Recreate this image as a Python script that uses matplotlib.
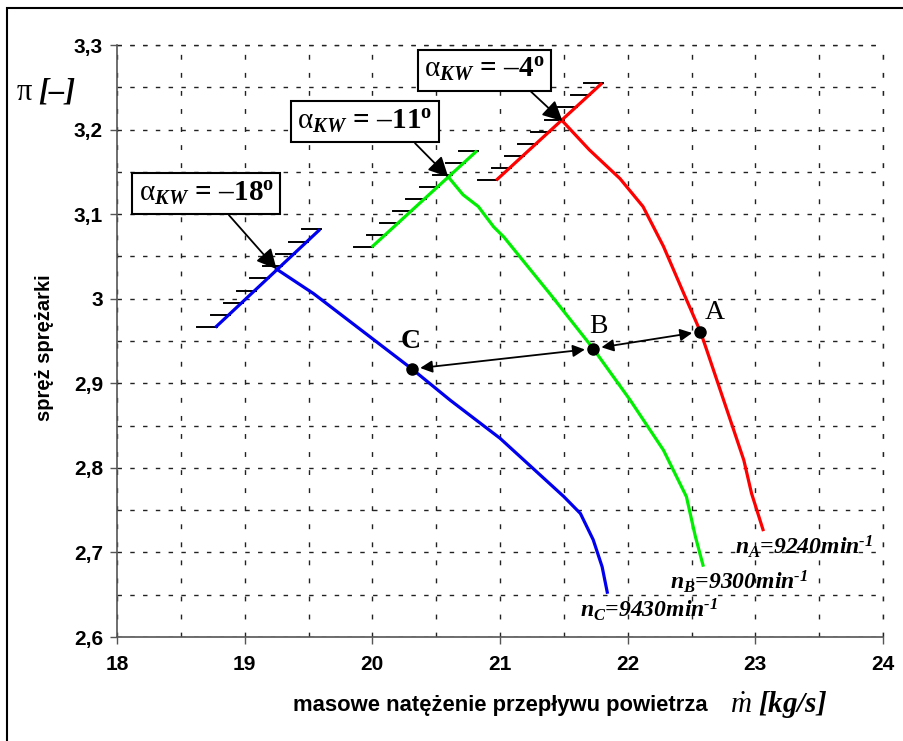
import matplotlib
matplotlib.use("Agg")
import matplotlib.pyplot as plt
import numpy as np
from matplotlib.ticker import MultipleLocator, FuncFormatter
from matplotlib.patches import Rectangle

plt.rcParams["mathtext.fontset"] = "custom"
plt.rcParams["mathtext.rm"] = "Liberation Serif"
plt.rcParams["mathtext.it"] = "Liberation Serif:italic"
plt.rcParams["mathtext.bf"] = "Liberation Serif:bold"
plt.rcParams["mathtext.bfit"] = "Liberation Serif:bold:italic"

# Compressor characteristic lines (mass flow [kg/s], pressure ratio [-])
nA_x = [21.49, 21.70, 21.94, 22.12, 22.28, 22.44, 22.57, 22.62, 22.83, 22.91, 22.97, 23.06]
nA_y = [3.210, 3.176, 3.142, 3.109, 3.062, 3.006, 2.961, 2.939, 2.845, 2.809, 2.770, 2.727]

nB_x = [20.595, 20.71, 20.83, 20.95, 21.03, 21.39, 21.73, 22.02, 22.28, 22.46, 22.53, 22.59]
nB_y = [3.144, 3.123, 3.109, 3.085, 3.073, 3.006, 2.941, 2.880, 2.821, 2.766, 2.719, 2.685]

nC_x = [19.25, 19.54, 20.31, 20.61, 21.00, 21.50, 21.63, 21.73, 21.80, 21.84]
nC_y = [3.035, 3.006, 2.917, 2.880, 2.835, 2.766, 2.746, 2.715, 2.683, 2.653]

# Surge limit lines (start, end) for each guide-vane angle
surge_A_x = [20.97, 21.80]
surge_A_y = [3.140, 3.255]
surge_B_x = [19.995, 20.82]
surge_B_y = [3.061, 3.175]
surge_C_x = [18.77, 19.59]
surge_C_y = [2.966, 3.082]

# Operating points
point_names = ["A", "B", "C"]
point_x = [22.57, 21.73, 20.31]
point_y = [2.961, 2.941, 2.917]

speed_subs = ["A", "B", "C"]
speed_values = ["9240", "9300", "9430"]
angle_values = ["4", "11", "18"]
DASH = "\u2013"

W, H = 904, 741
fig = plt.figure(figsize=(W / 100, H / 100), dpi=100)
ax = fig.add_axes([117 / W, 1 - 637 / H, (883 - 117) / W, (637 - 45) / H])

# outer frame
fig.patches.append(Rectangle((7 / W, -0.05), 1.2, 1 - 8 / H + 0.05, transform=fig.transFigure,
                             fill=False, edgecolor="black", linewidth=1.5))

ax.set_xlim(18, 24)
ax.set_ylim(2.6, 3.3)
ax.xaxis.set_major_locator(MultipleLocator(1))
ax.xaxis.set_minor_locator(MultipleLocator(0.5))
ax.yaxis.set_major_locator(MultipleLocator(0.1))
ax.yaxis.set_minor_locator(MultipleLocator(0.05))

def comma_fmt(v, pos):
    s = f"{v:.1f}".rstrip("0").rstrip(".")
    return s.replace(".", ",")

ax.yaxis.set_major_formatter(FuncFormatter(comma_fmt))
ax.xaxis.set_major_formatter(FuncFormatter(lambda v, p: f"{v:.0f}"))

for lab in ax.get_xticklabels() + ax.get_yticklabels():
    lab.set_fontfamily("Liberation Sans")
    lab.set_fontweight("bold")
    lab.set_fontsize(15)

ax.tick_params(axis="both", which="major", length=5, width=1, color="#555555", direction="out")
ax.tick_params(axis="x", which="major", pad=8)
ax.tick_params(axis="y", which="major", pad=5)
ax.tick_params(axis="both", which="minor", length=0)

for s in ["top", "right"]:
    ax.spines[s].set_visible(False)
for s in ["left", "bottom"]:
    ax.spines[s].set_color("#555555")
    ax.spines[s].set_linewidth(1.2)

ax.yaxis.grid(True, which="both", color="#222222", linewidth=1.0, linestyle=(0, (3.2, 6.0)))
ax.xaxis.grid(True, which="both", color="#222222", linewidth=1.0, linestyle=(0, (3.5, 9.5)))
ax.set_axisbelow(True)

# extra top and right dashed grid borders
ax.axhline(3.3, color="#222222", linewidth=1.0, linestyle=(0, (3.2, 6.0)), clip_on=False)
ax.axvline(24, color="#222222", linewidth=1.0, linestyle=(0, (3.5, 9.5)), clip_on=False)

# characteristic lines
ax.plot(nA_x, nA_y, color="#ff0000", linewidth=2.3, zorder=3)
ax.plot(nB_x, nB_y, color="#00ee00", linewidth=2.3, zorder=3)
ax.plot(nC_x, nC_y, color="#0000ee", linewidth=2.3, zorder=3)

# surge lines with hatching
for sx, sy, col in [(surge_A_x, surge_A_y, "#ff0000"),
                    (surge_B_x, surge_B_y, "#00ee00"),
                    (surge_C_x, surge_C_y, "#0000ee")]:
    hx = np.linspace(sx[0], sx[1], 9)
    hy = np.linspace(sy[0], sy[1], 9)
    for x0, y0 in zip(hx, hy):
        ax.plot([x0 - 0.14, x0 + 0.01], [y0, y0], color="black", linewidth=1.4, zorder=2)
    ax.plot(sx, sy, color=col, linewidth=2.3, zorder=3, solid_capstyle="butt")

# operating points
ax.plot(point_x, point_y, "o", color="black", markersize=8, zorder=5)
ax.text(point_x[0] + 0.11, point_y[0] + 0.023, point_names[0], fontfamily="Liberation Serif",
        fontsize=20, ha="center", va="center")
ax.text(point_x[1] + 0.04, point_y[1] + 0.026, point_names[1], fontfamily="Liberation Serif",
        fontsize=20, ha="center", va="center")
ax.text(point_x[2] - 0.01, point_y[2] + 0.032, point_names[2], fontfamily="Liberation Serif",
        fontweight="bold", fontsize=20, ha="center", va="center")

# double arrows between operating points
arrow_kw = dict(arrowstyle="<|-|>", color="black", lw=1.3, mutation_scale=18,
                shrinkA=6, shrinkB=6)
ax.annotate("", xy=(point_x[0], point_y[0]), xytext=(point_x[1], point_y[1]), arrowprops=arrow_kw)
ax.annotate("", xy=(point_x[1], point_y[1]), xytext=(point_x[2], point_y[2]), arrowprops=arrow_kw)

# speed labels
speed_pos = [(22.84, 2.698), (22.33, 2.657), (21.63, 2.624)]
for sub, val, (tx, ty) in zip(speed_subs, speed_values, speed_pos):
    lbl = ("n$_{\\mathbfit{" + sub + "}}$=" + val + "min$^{\\mathbfit{\u2010}\\mathbfit{1}}$")
    ax.text(tx, ty, lbl, fontfamily="Liberation Serif", fontweight="bold", fontstyle="italic",
            fontsize=17, ha="left", va="baseline")

# guide-vane angle callouts
callouts = [
    (angle_values[0], (nA_x[0], nA_y[0]), (20.88, 3.270), 0.82),
    (angle_values[1], (nB_x[0], nB_y[0]), (19.94, 3.209), 0.82),
    (angle_values[2], (nC_x[0], nC_y[0]), (18.70, 3.124), 0.62),
]
for val, tip, pos, rx in callouts:
    txt = (r"$\mathrm{\alpha}_{\mathbfit{KW}}\,\mathbf{=}\,\mathbf{" + DASH + val
           + r"}^{\mathbf{o}}$")
    ax.annotate(txt, xy=tip, xytext=pos, fontsize=21, ha="center", va="center",
                bbox=dict(boxstyle="square,pad=0.22", facecolor="white", edgecolor="black", linewidth=1.5),
                arrowprops=dict(arrowstyle="-|>", color="black", lw=1.3, mutation_scale=30,
                                shrinkA=0, shrinkB=0, relpos=(rx, 0)),
                zorder=6)

# axis titles
fig.text(45 / W, 1 - 348 / H, "spręż sprężarki", rotation=90, fontfamily="Liberation Sans",
         fontweight="bold", fontsize=14.5, ha="center", va="center")
fig.text(16 / W, 1 - 91 / H, r"$\mathrm{\pi}\ \mathbfit{[" + DASH + r"]}$", fontsize=22,
         ha="left", va="center")
fig.text(293 / W, 1 - 705 / H, "masowe natężenie przepływu powietrza", fontfamily="Liberation Sans",
         fontweight="bold", fontsize=15.8, ha="left", va="center")
fig.text(730 / W, 1 - 705 / H, r"$\dot{\mathit{m}}\ \mathbfit{[kg/s]}$", fontsize=21,
         ha="left", va="center")

fig.savefig("out.png", dpi=100, facecolor="white")
